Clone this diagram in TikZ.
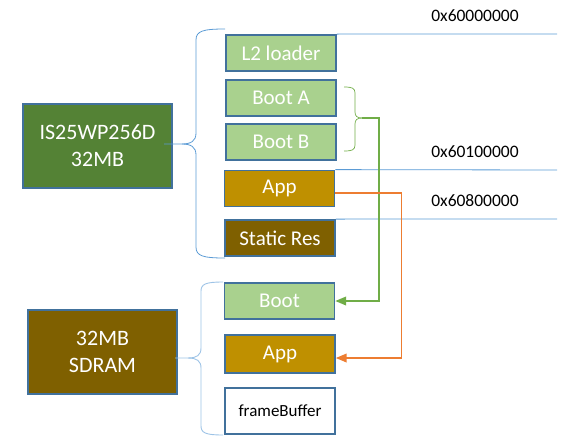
\documentclass[tikz,border=0pt]{standalone}
\usepackage{fontspec}
\setmainfont{Carlito}
\usepackage{tikz}
\usetikzlibrary{arrows}
\definecolor{edge}{HTML}{41719C}
\definecolor{lgreen}{HTML}{A9D18E}
\definecolor{dgreen}{HTML}{548235}
\definecolor{gold}{HTML}{BF9000}
\definecolor{brown}{HTML}{7F6000}
\definecolor{addrblue}{HTML}{5B9BD5}
\definecolor{paleblue}{HTML}{9DC3E6}
\definecolor{bootgreen}{HTML}{70AD47}
\definecolor{apporange}{HTML}{ED7D31}

\begin{document}
\begin{tikzpicture}[x=1pt,y=-1pt,>=triangle 45]
    \tikzstyle{part}=[draw=edge, line width=1.8pt, minimum width=110pt, minimum height=36pt, inner sep=0pt, text=white, font=\fontsize{21}{24}\selectfont]
    \tikzstyle{chip}=[part, minimum width=149pt, minimum height=84pt, align=center, font=\fontsize{22}{27}\selectfont]
    \tikzstyle{addr}=[draw=addrblue, line width=0.8pt]
    \tikzstyle{hex}=[font=\fontsize{17.5}{20}\selectfont]
    \useasboundingbox (0,0) rectangle (588,447);

    % flash side
    \node[chip, fill=dgreen]        (flash)   at (97.5,146)  {IS25WP256D\\32MB};
    \node[part, fill=lgreen]        (l2)      at (281,53)    {L2 loader};
    \node[part, fill=lgreen]        (bootA)   at (281,98)    {Boot A};
    \node[part, fill=lgreen]        (bootB)   at (281,142)   {Boot B};
    \node[part, fill=gold]          (app)     at (279.5,188.5) {App};
    \node[part, fill=brown]         (res)     at (280,238)   {Static Res};

    % sdram side
    \node[chip, fill=brown]         (sdram)   at (102.5,352) {32MB\\SDRAM};
    \node[part, fill=lgreen]        (bootram) at (279.5,301) {Boot};
    \node[part, fill=gold, minimum height=38pt] (appram) at (280,354) {App};
    \node[part, fill=white, text=black, minimum height=46pt, font=\fontsize{17}{20}\selectfont] (fb) at (280,411) {frameBuffer};

    % addresses
    \coordinate (e0) at (557,34);
    \coordinate (e1) at (557,170);
    \coordinate (e2) at (557,219);
    \draw[addr] (l2.north east) -- (e0);
    \draw[addr] (app.north east) -- (e1);
    \draw[addr] (res.north east) -- (e2);
    \node[hex] (a0) at (475,16)  {0x60000000};
    \node[hex] (a1) at (475,152) {0x60100000};
    \node[hex] (a2) at (475,201) {0x60800000};

    % braces
    \coordinate (ft) at (164,144);
    \coordinate (st) at (175,358);
    \coordinate (gt) at (362,118);
    \draw[addrblue, line width=0.8pt] (225,29) .. controls (203,29) and (196,31) .. (196,40) -- (196,133)
        .. controls (196,141) and (191,144) .. (182,144) -- (ft);
    \draw[addrblue, line width=0.8pt] (225,258) .. controls (203,258) and (196,256) .. (196,247) -- (196,155)
        .. controls (196,147) and (191,144) .. (182,144);
    \draw[paleblue, line width=0.9pt] (223,282) .. controls (206,282) and (201,284) .. (201,291) -- (201,348)
        .. controls (201,355) and (197,358) .. (188,358) -- (st);
    \draw[paleblue, line width=0.9pt] (223,435) .. controls (206,435) and (201,433) .. (201,426) -- (201,368)
        .. controls (201,361) and (197,358) .. (188,358);
    \draw[bootgreen, line width=0.7pt] (344,87) .. controls (352,87) and (355,88) .. (355,93) -- (355,112)
        .. controls (355,116) and (357,118) .. (gt);
    \draw[bootgreen, line width=0.7pt] (344,151) .. controls (352,151) and (355,150) .. (355,145) -- (355,124)
        .. controls (355,120) and (357,118) .. (gt);

    % copies
    \draw[bootgreen, line width=1.5pt, ->] (gt) -- ++(17,0) |- (bootram.east);
    \draw[apporange, line width=1.5pt, ->] ([yshift=-4.5pt]app.east) -- ++(66,0) |- ([yshift=-4pt]appram.east);

\end{tikzpicture}
\end{document}
